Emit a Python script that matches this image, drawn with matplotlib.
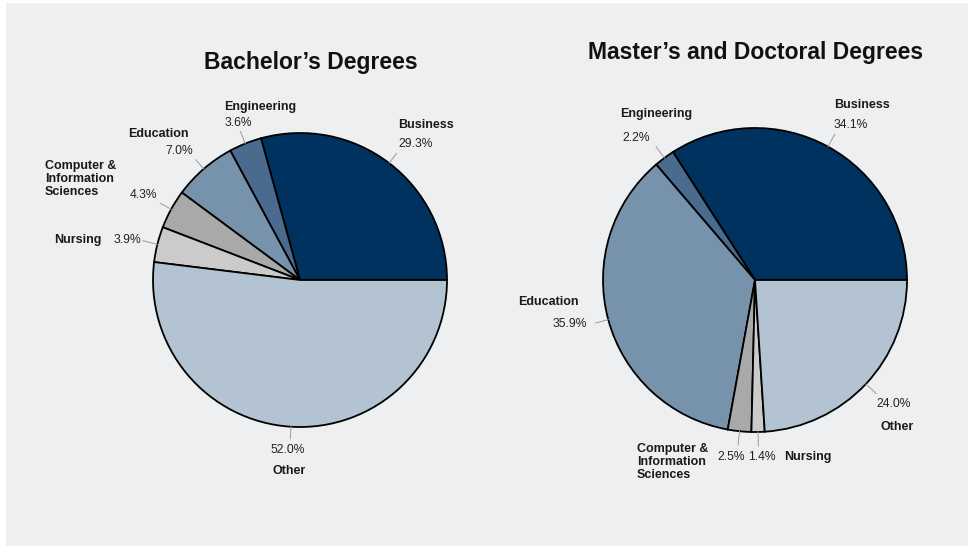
import matplotlib
matplotlib.use("Agg")
import matplotlib.pyplot as plt
from matplotlib.patches import Rectangle
import numpy as np

plt.rcParams['font.family'] = ['Liberation Sans', 'DejaVu Sans']

# ---------------- data ----------------
categories = ["Business", "Engineering", "Education",
              "Computer &\nInformation\nSciences", "Nursing", "Other"]
bachelor_values = [29.3, 3.6, 7.0, 4.3, 3.9, 52.0]
graduate_values = [34.1, 2.2, 35.9, 2.5, 1.4, 24.0]
titles = ["Bachelor\u2019s Degrees", "Master\u2019s and Doctoral Degrees"]
colors = ["#00325f", "#4a6a8e", "#7792ab", "#a9a9a9", "#cbcbcb", "#b3c3d1"]

# ---------------- layout (pixel coords, y measured from top) ----------------
W, H = 971, 548
BG = "#eeeff1"
pies = [
    dict(values=bachelor_values, center=(300, 280), radius=147,
         title_xy=(311, 63),
         name_xy=[(426, 125, 'center'), (260, 107, 'center'), (158, 134, 'center'),
                  (45, 179, 'left'), (78, 240, 'center'), (289, 471, 'center')],
         pct_xy=[(398, 144, 'left'), (238, 123, 'center'), (179, 151, 'center'),
                 (143, 195, 'center'), (127, 240, 'center'), (288, 450, 'center')],
         leader=[12, 13, 12, 12, 15, 12]),
    dict(values=graduate_values, center=(755, 280), radius=152,
         title_xy=(756, 52),
         name_xy=[(862, 105, 'center'), (656, 114, 'center'), (548, 302, 'center'),
                  (637, 462, 'left'), (808, 457, 'center'), (897, 427, 'center')],
         pct_xy=[(834, 125, 'left'), (636, 138, 'center'), (570, 324, 'center'),
                 (731, 457, 'center'), (762, 457, 'center'), (894, 404, 'center')],
         leader=[14, 14, 13, 14, 14, 14]),
]

fig = plt.figure(figsize=(W / 100, H / 100), dpi=100, facecolor="white")
ax = fig.add_axes([0, 0, 1, 1])
ax.add_patch(Rectangle((6, 2), 962, 543, facecolor=BG, edgecolor="none", zorder=0))

for p in pies:
    cx, cy = p["center"]
    r = p["radius"]
    vals = p["values"]
    ax.pie(vals, colors=colors, startangle=0, counterclock=True,
           center=(cx, H - cy), radius=r,
           wedgeprops=dict(edgecolor="black", linewidth=1.3), frame=True)
    tot = sum(vals)
    cum = 0.0
    for i, v in enumerate(vals):
        mid = np.deg2rad(360 * (cum + v / 2) / tot)
        cum += v
        L = p["leader"][i]
        x0, y0 = cx + r * np.cos(mid), (H - cy) + r * np.sin(mid)
        x1, y1 = cx + (r + L) * np.cos(mid), (H - cy) + (r + L) * np.sin(mid)
        ax.plot([x0, x1], [y0, y1], color="#9a9a9a", lw=0.7, zorder=3)
        nx, ny, nha = p["name_xy"][i]
        ax.text(nx, H - ny, categories[i], ha=nha, va="center", fontsize=9,
                fontweight="bold", color="#1a1a1a", linespacing=1.15, zorder=4)
        px, py, pha = p["pct_xy"][i]
        ax.text(px, H - py, f"{v:.1f}%", ha=pha, va="center", fontsize=8.7,
                color="#222222", zorder=5)

for p, t in zip(pies, titles):
    tx, ty = p["title_xy"]
    ax.text(tx, H - ty, t, ha="center", va="center", fontsize=16.5,
            fontweight="bold", color="#111111", zorder=4)

ax.set_xlim(0, W)
ax.set_ylim(0, H)
ax.set_aspect("equal")
ax.axis("off")

fig.savefig("out.png", dpi=100, facecolor="white")
